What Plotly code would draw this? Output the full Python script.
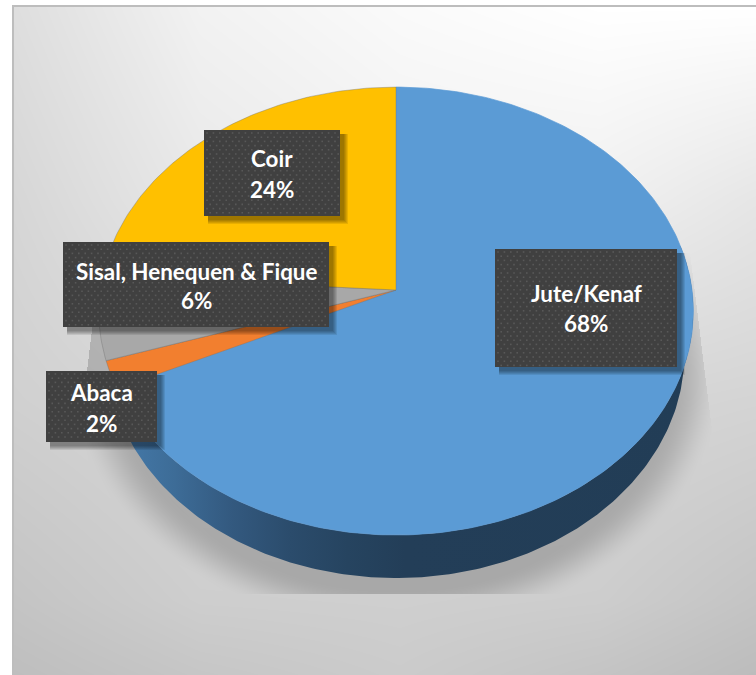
import numpy as np
import plotly.graph_objects as go

# Chart content
categories = ["Jute/Kenaf", "Abaca", "Sisal, Henequen & Fique", "Coir"]
shares = [68, 2, 6, 24]
slice_colors = ["#5b9bd5", "#f27f2f", "#a8a8a8", "#ffc000"]

# Pie projection: a tilted disc, slightly enlarged towards the viewer
CX, CY = 396.0, 290.0
RX, RY = 296.0, 222.0
TILT = 0.094
DEPTH = 43.0
FLOOR_SCALE = 0.97

W, H = 756, 675

# Backdrop brightness on a coarse grid
grid_x = [13, 200, 400, 600, 756]
grid_y = [6, 200, 400, 600, 675]
grid_levels = [
    [222, 242, 250, 255, 255],
    [214, 232, 240, 240, 230],
    [208, 215, 215, 215, 212],
    [196, 206, 207, 205, 196],
    [190, 198, 203, 196, 188],
]


def project(theta):
    u, v = np.sin(theta), -np.cos(theta)
    den = 1 - TILT * v
    return CX + RX * u / den, CY + RY * v / den


# Backdrop gradient, with the pie's cast shadow on top of it
gx = np.arange(13, W) + 0.5
gy = np.arange(6, H) + 0.5
X, Y = np.meshgrid(gx, gy)
by_row = np.array([np.interp(gx, grid_x, row) for row in grid_levels])
backdrop = np.array([np.interp(gy, grid_y, by_row[:, j]) for j in range(gx.size)]).T

r = np.sqrt(((X - 396) / 285.0) ** 2 + ((Y - 366) / 228.0) ** 2)
d = (r - 1) * 250
t = np.clip((d + 5) / 45.0, 0, 1)
alpha = 0.19 * (1 - t * t * (3 - 2 * t))
alpha[(X < 110) & (Y > 320) & (Y < 380)] = 0.17
alpha[Y > 594] = 0
alpha[Y < 253] = 0
alpha[X > 690 + (Y - 253) * 22 / 177] = 0
alpha[X < 92 - (Y - 330) * 5 / 41] = 0
pixels = np.round(backdrop * (1 - alpha)).clip(0, 255).astype(np.uint8)

fig = go.Figure()
fig.add_trace(go.Heatmap(
    x0=13.5, dx=1, y0=6.5, dy=1, z=pixels,
    zmin=0, zmax=255, showscale=False, hoverinfo="skip",
    colorscale=[[0, "#000000"], [1, "#ffffff"]],
))
fig.add_trace(go.Scatter(
    x=[13, 13, W], y=[H, 6, 6], mode="lines",
    line=dict(color="#bdbdbd", width=2), hoverinfo="skip",
))

# Slice angles, clockwise from twelve o'clock
fractions = np.array(shares) / sum(shares)
edges = np.concatenate([[0], np.cumsum(fractions)]) * 2 * np.pi

# Side wall of the pie, visible only along the front of the first slice
wall_t = np.linspace(np.pi / 2.3, edges[1], 200)
tx, ty = project(wall_t)
bx = CX + (tx - CX) * FLOOR_SCALE
by = ty + DEPTH
fig.add_trace(go.Scatter(
    x=np.concatenate([tx, bx[::-1]]), y=np.concatenate([ty, by[::-1]]),
    mode="lines", fill="toself", line=dict(width=0), hoverinfo="skip",
    fillgradient=dict(
        type="horizontal",
        colorscale=[[0, "#457aaa"], [0.1, "#3d6c97"], [0.2, "#33597f"], [0.3, "#2b4c6c"],
                    [0.4, "#264460"], [0.5, "#233e58"], [1, "#223d56"]],
    ),
))

# Top faces of the slices
for i, (name, color) in enumerate(zip(categories, slice_colors)):
    arc = np.linspace(edges[i], edges[i + 1], max(12, int(400 * fractions[i])))
    ax, ay = project(arc)
    fig.add_trace(go.Scatter(
        x=np.concatenate([[CX], ax, [CX]]), y=np.concatenate([[CY], ay, [CY]]),
        mode="lines", fill="toself", fillcolor=color, name=name,
        line=dict(color="rgba(110,110,110,0.55)" if i else color, width=0.7),
        hoverinfo="skip",
    ))

# Data labels: box extents and text line centres
label_boxes = {
    "Jute/Kenaf": (495, 677, 249, 367),
    "Abaca": (46, 157, 371, 442),
    "Sisal, Henequen & Fique": (63, 329, 242, 327),
    "Coir": (204, 340, 130, 216),
}
label_lines = {
    "Jute/Kenaf": (293, 323),
    "Abaca": (392, 423),
    "Sisal, Henequen & Fique": (271, 300),
    "Coir": (158, 189),
}
DOT_DX, DOT_DY = 6.4, 4.2

for name, share in zip(categories, shares):
    x0, x1, y0, y1 = label_boxes[name]
    # Soft drop shadow built from stacked translucent rectangles
    for grow in [4, 3, 2, 1, 0]:
        fig.add_trace(go.Scatter(
            x=[x0 + 4, x1 + 4 + grow, x1 + 4 + grow, x0 + 4, x0 + 4],
            y=[y0 + 4, y0 + 4, y1 + 4 + grow, y1 + 4 + grow, y0 + 4],
            mode="lines", fill="toself", fillcolor="rgba(0,0,0,0.09)",
            line=dict(width=0), hoverinfo="skip",
        ))
    fig.add_trace(go.Scatter(
        x=[x0, x1, x1, x0, x0], y=[y0, y0, y1, y1, y0],
        mode="lines", fill="toself", fillcolor="#404040",
        line=dict(width=0), hoverinfo="skip",
    ))
    # Staggered dot texture inside the box
    dots_x, dots_y = [], []
    for row, yd in enumerate(np.arange(y0 + 3, y1 - 1, DOT_DY)):
        offset = 3 + (DOT_DX / 2 if row % 2 else 0)
        xs = np.arange(x0 + offset, x1 - 1, DOT_DX)
        dots_x.extend(xs)
        dots_y.extend([yd] * len(xs))
    fig.add_trace(go.Scatter(
        x=dots_x, y=dots_y, mode="markers", hoverinfo="skip",
        marker=dict(symbol="square", size=1.6, color="#585858", line=dict(width=0)),
    ))
    xc = (x0 + x1) / 2
    for text, yc in zip([name, f"{share}%"], label_lines[name]):
        fig.add_annotation(
            x=xc, y=yc, text=text, showarrow=False, xanchor="center", yanchor="middle",
            font=dict(family="Lato", size=22.4, color="#ffffff", weight="bold"),
        )

fig.update_layout(
    width=W, height=H, margin=dict(l=0, r=0, t=0, b=0),
    paper_bgcolor="#ffffff", plot_bgcolor="#ffffff", showlegend=False,
    xaxis=dict(range=[0, W], visible=False, fixedrange=True),
    yaxis=dict(range=[H, 0], visible=False, fixedrange=True),
)
fig.write_html("out.html", config={"displayModeBar": False})
